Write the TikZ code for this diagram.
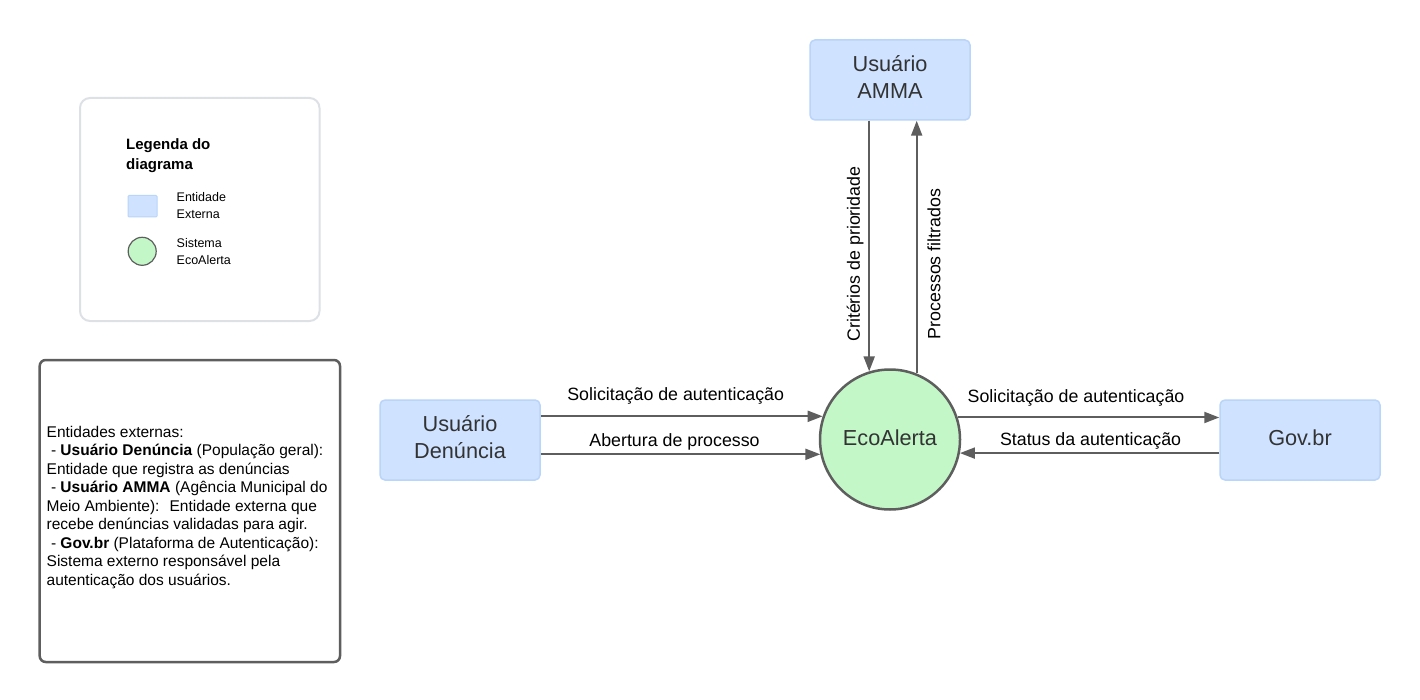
\documentclass[tikz,border=0pt]{standalone}
\usepackage{fontspec}
\setmainfont{Liberation Sans}
\usetikzlibrary{arrows.meta}
\definecolor{bluefill}{HTML}{CFE2FF}
\definecolor{blueline}{HTML}{B9D5FA}
\definecolor{greenfill}{HTML}{C3F7C8}
\definecolor{darkline}{HTML}{5E5E5E}
\definecolor{nodetext}{HTML}{333333}
\definecolor{legline}{HTML}{DDE1E6}
\begin{document}
\begin{tikzpicture}[x=1pt,y=-1pt,
  entity/.style={draw=blueline, fill=bluefill, line width=1.5pt, rounded corners=5pt,
    minimum width=160pt, minimum height=80pt, inner sep=0pt},
  enttext/.style={align=center, text=nodetext, inner sep=0pt,
    font=\fontsize{21.7}{27}\selectfont},
  system/.style={circle, draw=darkline, fill=greenfill, line width=2.5pt,
    minimum size=140pt, inner sep=0pt},
  flow/.style={draw=darkline, line width=2pt, -{Triangle[length=15pt,width=11pt]}},
  flowlabel/.style={font=\fontsize{17.8}{21}\selectfont, text=black, inner sep=0pt},
  legendbox/.style={draw=legline, line width=2pt, rounded corners=10pt, fill=white},
  notebox/.style={draw=darkline, line width=2.5pt, rounded corners=6pt},
  legtext/.style={font=\fontsize{12.5}{17.3}\selectfont, align=left, anchor=west, inner sep=0pt},
]
\useasboundingbox (0,0) rectangle (1420,700);
\fill[white] (0,0) rectangle (1420,700);

% legend
\draw[legendbox] (80,98) rectangle (319.5,321);
\node[font=\bfseries\fontsize{15}{20}\selectfont, align=left, anchor=west, inner sep=0pt] (legtitle) at (126,155.3) {Legenda do\\diagrama};
\draw[draw=blueline, fill=bluefill, line width=1pt, rounded corners=1pt] (128,195.5) rectangle (157,217);
\node[legtext] (legent) at (176.5,205.8) {Entidade\\Externa};
\draw[draw=darkline, fill=greenfill, line width=1.2pt] (142.2,251.3) circle[radius=14];
\node[legtext] (legsys) at (176.5,251.3) {Sistema\\EcoAlerta};

% note box
\draw[notebox] (39.7,360) rectangle (340,662);
\node[font=\fontsize{15.5}{18.5}\selectfont, align=left, anchor=west, inner sep=0pt] (notes) at (46.5,507.3)
 {Entidades externas:\\
  ~- \textbf{Usuário Denúncia} (População geral):\\
  Entidade que registra as denúncias\\
  ~- \textbf{Usuário AMMA} (Agência Municipal do\\
  Meio Ambiente):~ Entidade externa que\\
  recebe denúncias validadas para agir.\\
  ~- \textbf{Gov.br} (Plataforma de Autenticação):\\
  Sistema externo responsável pela\\
  autenticação dos usuários.};

% main nodes
\node[entity, label={[enttext, yshift=3.3pt]center:Usuário\\Denúncia}] (ud) at (460,440) {};
\node[entity, label={[enttext, yshift=3.3pt]center:Usuário\\AMMA}] (amma) at (890,80) {};
\node[entity, label={[enttext, yshift=1.8pt]center:Gov.br}] (gov) at (1300,440) {};
\node[system, label={[enttext, yshift=1.5pt]center:EcoAlerta}] (eco) at (890,439.5) {};

% flows
\draw[flow] (eco.161.9 -| ud.east) -- (eco.161.9)
  node[flowlabel, midway, xshift=-6pt, yshift=20.2pt] {Solicitação de autenticação};
\draw[flow] (eco.192.2 -| ud.east) -- (eco.192.2)
  node[flowlabel, midway, xshift=-6pt, yshift=12.8pt] {Abertura de processo};
\draw[flow] (eco.18.5) -- (eco.18.5 -| gov.west)
  node[flowlabel, midway, xshift=-12.5pt, yshift=20pt] {Solicitação de autenticação};
\draw[flow] (eco.-11.4 -| gov.west) -- (eco.-11.4)
  node[flowlabel, midway, xshift=1pt, yshift=12pt] {Status da autenticação};
\draw[flow] (eco.107.5 |- amma.south) -- (eco.107.5)
  node[flowlabel, midway, rotate=90, xshift=-8pt, yshift=14pt] {Critérios de prioridade};
\draw[flow] (eco.68.2) -- (eco.68.2 |- amma.south)
  node[flowlabel, midway, rotate=90, xshift=-17pt, yshift=-17.3pt] {Processos filtrados};
\end{tikzpicture}
\end{document}
